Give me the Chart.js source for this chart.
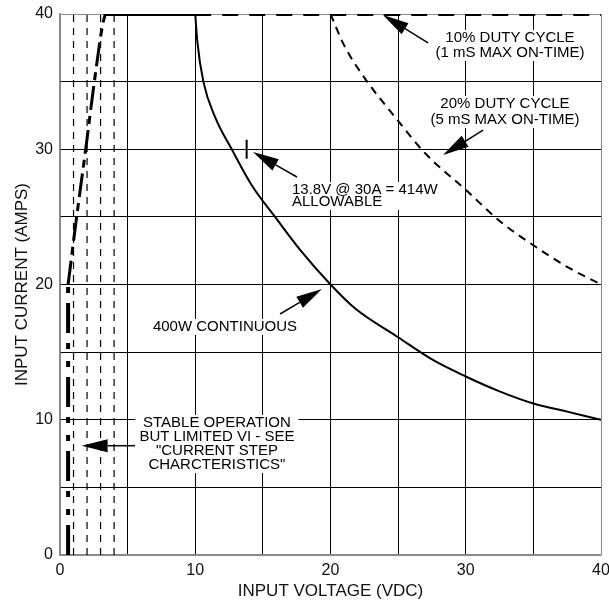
<!DOCTYPE html>
<html>
<head>
<meta charset="utf-8">
<script src="https://cdn.jsdelivr.net/npm/chart.js@4.4.1/dist/chart.umd.min.js"></script>
<style>
	body { margin: 0; background: #fff; }
</style>
</head>
<body>
<canvas id="myChart" width="609" height="602"></canvas>
<script>
// 400W continuous curve
const contVolts = [10, 10.15, 10.6, 11.5, 12.7, 14.2, 15.9, 17.8, 20, 21.85, 25, 27.6, 30, 32.5, 35, 37.5, 40];
const contAmps = [40, 38, 35, 32.3, 30, 27.3, 25, 22.5, 20, 18.2, 16.1, 14.4, 13.2, 12.1, 11.2, 10.6, 10];

// 20% duty cycle curve
const duty20Volts = [20, 21, 22.5, 25, 27, 30, 32.5, 35, 37.5, 40];
const duty20Amps = [40, 37.7, 35.3, 32.1, 29.7, 27, 24.7, 22.9, 21.3, 20];

// 10% duty cycle limit (top line)
const duty10Volts = [10, 40];
const duty10Amps = [40, 40];

// solid top limit between the low voltage ramp and 10V
const limitVolts = [3.35, 10];
const limitAmps = [40, 40];

// low voltage ramp
const rampVolts = [0.6, 1.23, 1.9, 2.54, 3.15, 3.35];
const rampAmps = [20, 25, 30, 35, 39.2, 40];

// stable operation limit at low voltage
const stableVolts = [0.6, 0.6];
const stableAmps = [0, 20];

// minor voltage lines below 5V
const minorVolts = [1, 2, 3, 4];

// 13.8V marker
const markVolts = [13.8, 13.8];
const markAmps = [29.3, 30.7];

// axis ticks
const xMax = 40;
const yMax = 40;
const tickStep = 5;
const labelStep = 10;

// notes
const noteText = [
	['10% DUTY CYCLE', '(1 mS MAX ON-TIME)'],
	['20% DUTY CYCLE', '(5 mS MAX ON-TIME)'],
	['13.8V @ 30A = 414W', 'ALLOWABLE'],
	['400W CONTINUOUS'],
	['STABLE OPERATION', 'BUT LIMITED VI - SEE', '"CURRENT STEP', 'CHARCTERISTICS"'],
];
const noteX = [33.27, 32.9, 17.15, 12.2, 11.6];
const noteY = [[38.23, 37.12], [33.35, 32.16], [26.99, 26.1], [16.86], [9.76, 8.72, 7.69, 6.65]];
const noteAlign = ['center', 'center', 'left', 'center', 'center'];

const arrowFrom = [[27.21, 37.86], [31.28, 31.42], [17.52, 27.95], [16.27, 17.82], [5.55, 8.08]];
const arrowTo = [[23.88, 39.93], [28.32, 29.57], [14.27, 29.8], [19.37, 19.67], [1.6, 8.08]];

const FONT = '"Liberation Sans", Arial, sans-serif';

function toPoints(xs, ys) {
	return xs.map((v, i) => ({ x: v, y: ys[i] }));
}

let datasets = [
	{ data: toPoints(contVolts, contAmps), borderWidth: 2, cubicInterpolationMode: 'monotone' },
	{ data: toPoints(duty20Volts, duty20Amps), borderWidth: 2, borderDash: [8, 6], cubicInterpolationMode: 'monotone' },
	{ data: toPoints(duty10Volts, duty10Amps), borderWidth: 4, borderDash: [16, 11] },
	{ data: toPoints(limitVolts, limitAmps), borderWidth: 4 },
	{ data: toPoints(rampVolts, rampAmps), borderWidth: 3, borderDash: [24, 6, 8, 6], cubicInterpolationMode: 'monotone' },
	{ data: toPoints(stableVolts, stableAmps), borderWidth: 4, borderDash: [30, 10, 6, 12, 6, 10] },
	{ data: toPoints(markVolts, markAmps), borderWidth: 2 },
];
minorVolts.forEach((v) => {
	datasets.push({ data: toPoints([v, v], [0, yMax]), borderWidth: 1.2, borderDash: [7, 6] });
});
datasets = datasets.map((d) => ({ ...d, borderColor: '#000', pointRadius: 0, showLine: true, fill: false }));

const notesPlugin = {
	id: 'notes',
	beforeDatasetsDraw(chart) {
		const { ctx, scales: { x, y } } = chart;
		ctx.save();
		ctx.font = `15px ${FONT}`;
		ctx.fillStyle = '#fff';
		noteText.forEach((lines, i) => {
			const w = Math.max(...lines.map((l) => ctx.measureText(l).width));
			const px = x.getPixelForValue(noteX[i]);
			const top = y.getPixelForValue(noteY[i][0]) - 8;
			const bottom = y.getPixelForValue(noteY[i][noteY[i].length - 1]) + 8;
			const left = noteAlign[i] == 'left' ? px - 4 : px - w / 2 - 4;
			ctx.fillRect(left, top, w + 8, bottom - top);
		});
		ctx.restore();
	},
	afterDatasetsDraw(chart) {
		const { ctx, scales: { x, y } } = chart;
		ctx.save();
		ctx.font = `15px ${FONT}`;
		ctx.fillStyle = '#000';
		ctx.textBaseline = 'middle';
		noteText.forEach((lines, i) => {
			ctx.textAlign = noteAlign[i];
			lines.forEach((l, j) => {
				ctx.fillText(l, x.getPixelForValue(noteX[i]), y.getPixelForValue(noteY[i][j]));
			});
		});

		// arrows
		ctx.strokeStyle = '#000';
		ctx.lineWidth = 1.5;
		arrowFrom.forEach((from, i) => {
			const x0 = x.getPixelForValue(from[0]);
			const y0 = y.getPixelForValue(from[1]);
			const x1 = x.getPixelForValue(arrowTo[i][0]);
			const y1 = y.getPixelForValue(arrowTo[i][1]);
			const ang = Math.atan2(y1 - y0, x1 - x0);
			const headLen = 26;
			const headW = 6.5;
			const bx = x1 - headLen * Math.cos(ang);
			const by = y1 - headLen * Math.sin(ang);
			ctx.beginPath();
			ctx.moveTo(x0, y0);
			ctx.lineTo(bx, by);
			ctx.stroke();
			ctx.beginPath();
			ctx.moveTo(x1, y1);
			ctx.lineTo(bx + headW * Math.sin(ang), by - headW * Math.cos(ang));
			ctx.lineTo(bx - headW * Math.sin(ang), by + headW * Math.cos(ang));
			ctx.closePath();
			ctx.fill();
		});
		ctx.restore();
	},
};

function gridColor(c) {
	return c.tick && (c.tick.value == 0 || c.tick.value == 40) ? '#8a8a8a' : '#000';
}

function noPadding(scale) {
	scale.paddingLeft = 0;
	scale.paddingRight = 0;
	scale.paddingTop = 0;
	scale.paddingBottom = 0;
}

const ctx = document.getElementById('myChart');
const chart = new Chart(ctx, {
	type: 'scatter',
	data: { datasets: datasets },
	options: {
		responsive: false,
		animation: false,
		layout: { padding: { top: 14, right: 8, left: 0, bottom: 0 } },
		scales: {
			x: {
				type: 'linear',
				min: 0,
				max: xMax,
				border: { color: '#8a8a8a', width: 1.5 },
				grid: { color: gridColor, lineWidth: 1, drawTicks: false },
				ticks: {
					stepSize: tickStep,
					autoSkip: false,
					maxRotation: 0,
					padding: 6,
					color: '#111',
					font: { family: FONT, size: 16 },
					callback: (v) => (v % labelStep == 0 ? v : ''),
				},
				title: {
					display: true,
					text: 'INPUT VOLTAGE (VDC)',
					color: '#111',
					font: { family: FONT, size: 17 },
					padding: { top: 0, bottom: 0 },
				},
				afterFit: (scale) => {
					scale.height = 47;
					noPadding(scale);
				},
			},
			y: {
				type: 'linear',
				min: 0,
				max: yMax,
				border: { color: '#8a8a8a', width: 1.5 },
				grid: { color: gridColor, lineWidth: 1, drawTicks: false },
				ticks: {
					stepSize: tickStep,
					autoSkip: false,
					padding: 7,
					color: '#111',
					font: { family: FONT, size: 16 },
					callback: (v) => (v % labelStep == 0 ? v : ''),
				},
				title: {
					display: true,
					text: 'INPUT CURRENT (AMPS)',
					color: '#111',
					font: { family: FONT, size: 17 },
					padding: { top: 12, bottom: 0 },
				},
				afterFit: (scale) => {
					scale.width = 60;
					noPadding(scale);
				},
			},
		},
		plugins: {
			legend: { display: false },
			tooltip: { enabled: false },
		},
	},
	plugins: [notesPlugin],
});
</script>
</body>
</html>
